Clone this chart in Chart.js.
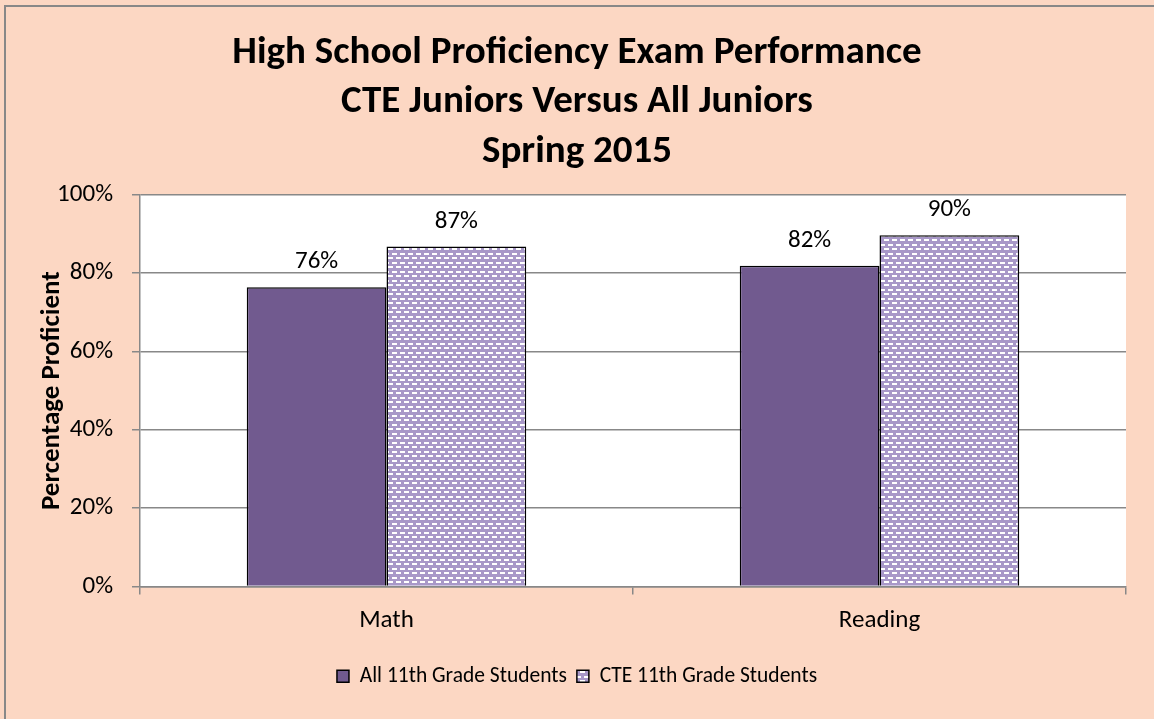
<!DOCTYPE html>
<html>
<head>
<meta charset="utf-8">
<script src="https://cdn.jsdelivr.net/npm/chart.js@4.4.0/dist/chart.umd.min.js"></script>
<style>
  html, body { margin: 0; padding: 0; background: #fcd7c3; overflow: hidden; }
  #wrap { position: relative; width: 1154px; height: 719px; }
</style>
</head>
<body>
<div id="wrap"><canvas id="chart" width="1154" height="719"></canvas></div>
<script>
// ── Data ──────────────────────────────────────────────────────────────────────
const categories  = ['Math', 'Reading'];
const seriesNames = ['All 11th Grade Students', 'CTE 11th Grade Students'];
const allStudents = [76.4, 81.9];
const cteStudents = [86.8, 89.7];
const yTicks      = [0, 20, 40, 60, 80, 100];
const titleLines  = [
  'High School Proficiency Exam Performance',
  'CTE Juniors Versus All Juniors',
  'Spring 2015'
];

const FONT = 'Carlito, Calibri, Lato, sans-serif';
const DARK = '#715a8f';
const LIGHT = '#a898c8';

// dashed "brick" fill used by the CTE bars
function makePattern() {
  const c = document.createElement('canvas');
  c.width = 8; c.height = 9;
  const g = c.getContext('2d');
  g.fillStyle = LIGHT;
  g.fillRect(0, 0, 8, 9);
  g.fillStyle = '#ffffff';
  g.fillRect(0, 1, 5, 2);
  g.fillRect(4, 5, 4, 2);
  g.fillRect(0, 5, 1, 2);
  return g.createPattern(c, 'repeat');
}
const ctePattern = makePattern();

// ── Plugins ───────────────────────────────────────────────────────────────────
const background = {
  id: 'background',
  beforeDraw(chart) {
    const { ctx, width, height } = chart;
    ctx.save();
    ctx.fillStyle = '#fcd7c3';
    ctx.fillRect(0, 0, width, height);
    // plot area is white
    const a = chart.chartArea;
    ctx.fillStyle = '#ffffff';
    ctx.fillRect(a.left, a.top, a.right - a.left, a.bottom - a.top);
    // outer frame (left + top visible)
    ctx.strokeStyle = '#888888';
    ctx.lineWidth = 2;
    ctx.beginPath();
    ctx.moveTo(5, height);
    ctx.lineTo(5, 6);
    ctx.lineTo(width, 6);
    ctx.stroke();
    ctx.restore();
  }
};

const barLabels = {
  id: 'barLabels',
  afterDatasetsDraw(chart) {
    const ctx = chart.ctx;
    ctx.save();
    ctx.font = `25px ${FONT}`;
    ctx.fillStyle = '#000';
    ctx.textAlign = 'center';
    ctx.textBaseline = 'alphabetic';
    chart.data.datasets.forEach((ds, i) => {
      chart.getDatasetMeta(i).data.forEach((bar, j) => {
        ctx.fillText(Math.round(ds.data[j]) + '%', bar.x, bar.y - 19);
      });
    });
    ctx.restore();
  }
};

// ── Chart ─────────────────────────────────────────────────────────────────────
new Chart(document.getElementById('chart'), {
  type: 'bar',
  data: {
    labels: categories,
    datasets: [
      {
        label: seriesNames[0],
        data: allStudents,
        backgroundColor: DARK,
        borderColor: '#000',
        borderWidth: 1.5,
        borderSkipped: 'bottom'
      },
      {
        label: seriesNames[1],
        data: cteStudents,
        backgroundColor: ctePattern,
        borderColor: '#000',
        borderWidth: 1.5,
        borderSkipped: 'bottom'
      }
    ]
  },
  options: {
    responsive: false,
    animation: false,
    devicePixelRatio: 1,
    layout: { padding: { left: 14, right: 14, top: 0, bottom: 22 } },
    datasets: { bar: { barPercentage: 1, categoryPercentage: 0.567 } },
    plugins: {
      title: {
        display: true,
        text: titleLines,
        color: '#000',
        font: { family: FONT, size: 39, weight: 'bold', lineHeight: 1.26 },
        padding: { top: 29, bottom: 18.5 }
      },
      legend: {
        position: 'bottom',
        labels: {
          color: '#000',
          font: { family: FONT, size: 21.5 },
          boxWidth: 12,
          boxHeight: 12,
          padding: 10
        }
      },
      tooltip: { enabled: false }
    },
    scales: {
      x: {
        afterFit: s => { s.height = 69; },
        grid: {
          offset: true,
          drawOnChartArea: false,
          color: '#888',
          tickLength: 8,
          lineWidth: 1.5
        },
        border: { color: '#888', width: 1.5 },
        ticks: { color: '#000', font: { family: FONT, size: 25 }, padding: 11 }
      },
      y: {
        min: 0,
        max: 100,
        afterFit: s => { s.width = 126; },
        afterBuildTicks: s => { s.ticks = yTicks.map(v => ({ value: v })); },
        grid: { color: '#888', tickLength: 8, lineWidth: 1.5 },
        border: { color: '#888', width: 1.5 },
        ticks: {
          color: '#000',
          font: { family: FONT, size: 25 },
          padding: 19,
          callback: v => v + '%'
        },
        title: {
          display: true,
          text: 'Percentage Proficient',
          color: '#000',
          font: { family: FONT, size: 27, weight: 'bold' },
          padding: { top: 22 }
        }
      },
      // empty right-hand spacer so the title centres over the whole frame
      y2: {
        position: 'right',
        afterFit: s => { s.width = 14; },
        ticks: { display: false },
        grid: { display: false },
        border: { display: false }
      }
    }
  },
  plugins: [background, barLabels]
});
</script>
</body>
</html>
